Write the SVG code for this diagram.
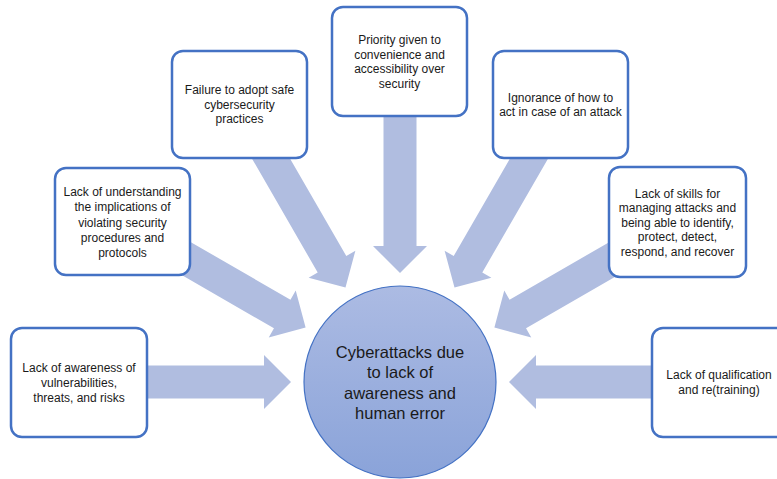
<svg xmlns="http://www.w3.org/2000/svg" width="777" height="479" viewBox="0 0 777 479">
<style>
.box{fill:#ffffff;stroke:#4472c4;stroke-width:2.5}
.arrow{fill:#b0bde0}
.t{font-family:"Liberation Sans",Arial,sans-serif;font-size:12px;fill:#1a1a1a;text-anchor:middle}
.c{font-family:"Liberation Sans",Arial,sans-serif;font-size:16.5px;fill:#1a1a1a;text-anchor:middle}
</style>
<defs>
<linearGradient id="g" x1="0" y1="0" x2="0" y2="1">
<stop offset="0" stop-color="#acbbe3"/>
<stop offset="1" stop-color="#8aa3d9"/>
</linearGradient>
<polygon id="arr" points="-270,-16.5 -136,-16.5 -136,-27 -109,0 -136,27 -136,16.5 -270,16.5"/>
</defs>
<g id="connectors" transform="translate(400,382)">
<use href="#arr" class="arrow" transform="rotate(0)"/>
<use href="#arr" class="arrow" transform="rotate(30)"/>
<use href="#arr" class="arrow" transform="rotate(60)"/>
<use href="#arr" class="arrow" transform="rotate(90)"/>
<use href="#arr" class="arrow" transform="rotate(120)"/>
<use href="#arr" class="arrow" transform="rotate(150)"/>
<use href="#arr" class="arrow" transform="rotate(180)"/>
</g>
<g id="center">
<circle cx="400" cy="382" r="96" fill="url(#g)" stroke="#4472c4" stroke-width="1.2"/>
<text class="c" x="400"><tspan x="400" y="357.5">Cyberattacks due</tspan><tspan x="400" y="378">to lack of</tspan><tspan x="400" y="398.5">awareness and</tspan><tspan x="400" y="419">human error</tspan></text>
</g>
<g id="awareness">
<rect class="box" x="11" y="328" width="136" height="109" rx="11"/>
<text class="t"><tspan x="79" y="372">Lack of awareness of</tspan><tspan x="79" y="387">vulnerabilities,</tspan><tspan x="79" y="402">threats, and risks</tspan></text>
</g>
<g id="understanding">
<rect class="box" x="55" y="168" width="135" height="107" rx="11"/>
<text class="t"><tspan x="122.5" y="196">Lack of understanding</tspan><tspan x="122.5" y="211.3">the implications of</tspan><tspan x="122.5" y="226.6">violating security</tspan><tspan x="122.5" y="241.9">procedures and</tspan><tspan x="122.5" y="257.2">protocols</tspan></text>
</g>
<g id="failure">
<rect class="box" x="172" y="51" width="135" height="107" rx="11"/>
<text class="t"><tspan x="239.5" y="94">Failure to adopt safe</tspan><tspan x="239.5" y="108.5">cybersecurity</tspan><tspan x="239.5" y="123">practices</tspan></text>
</g>
<g id="priority">
<rect class="box" x="332" y="7" width="135" height="109" rx="11"/>
<text class="t"><tspan x="399.5" y="44">Priority given to</tspan><tspan x="399.5" y="58.5">convenience and</tspan><tspan x="399.5" y="73">accessibility over</tspan><tspan x="399.5" y="87.5">security</tspan></text>
</g>
<g id="ignorance">
<rect class="box" x="493" y="51" width="135" height="107" rx="11"/>
<text class="t"><tspan x="560.5" y="101.5">Ignorance of how to</tspan><tspan x="560.5" y="116">act in case of an attack</tspan></text>
</g>
<g id="skills">
<rect class="box" x="609" y="167" width="137" height="110" rx="11"/>
<text class="t"><tspan x="677.5" y="197.5">Lack of skills for</tspan><tspan x="677.5" y="212">managing attacks and</tspan><tspan x="677.5" y="226.5">being able to identify,</tspan><tspan x="677.5" y="241">protect, detect,</tspan><tspan x="677.5" y="255.5">respond, and recover</tspan></text>
</g>
<g id="qualification">
<rect class="box" x="652" y="328" width="137" height="109" rx="11"/>
<text class="t"><tspan x="719" y="379">Lack of qualification</tspan><tspan x="719" y="394">and re(training)</tspan></text>
</g>
</svg>
